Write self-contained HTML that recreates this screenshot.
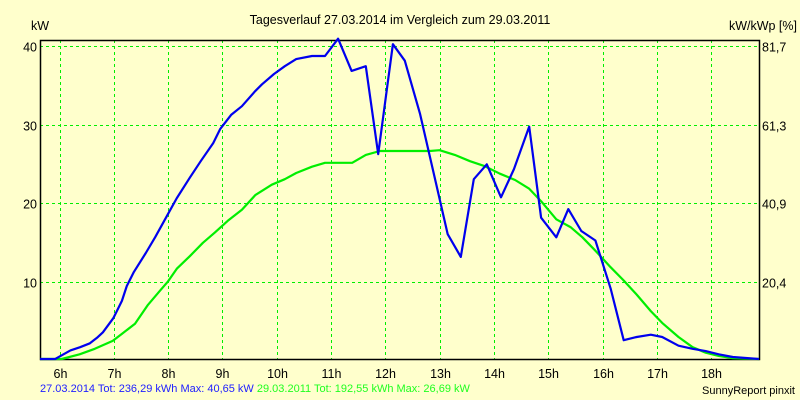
<!DOCTYPE html>
<html><head><meta charset="utf-8"><style>
html,body{margin:0;padding:0;background:#ffffcc;}
svg{display:block;font-family:"Liberation Sans",sans-serif;}
</style></head><body>
<svg id="chart" width="800" height="400">
<rect x="0" y="0" width="800" height="400" fill="#ffffcc"/>
<g id="grid"></g>
<g id="axes"></g>
<g id="series"></g>
<text x="400" y="24" font-size="12.5" text-anchor="middle" fill="#000">Tagesverlauf 27.03.2014 im Vergleich zum 29.03.2011</text>
<text x="31" y="30" font-size="12.5" fill="#000">kW</text>
<text x="797" y="30" font-size="12.5" text-anchor="end" fill="#000">kW/kWp [%]</text>
<text x="40" y="392" font-size="11"><tspan fill="#2020ff">27.03.2014 Tot: 236,29 kWh Max: 40,65 kW</tspan> <tspan fill="#20ff20">29.03.2011 Tot: 192,55 kWh Max: 26,69 kW</tspan></text>
<text x="795" y="394" font-size="11" text-anchor="end" fill="#000">SunnyReport pinxit</text>
</svg>
<script>
const xTicks = [6,7,8,9,10,11,12,13,14,15,16,17,18];
const yTicks = [10,20,30,40];
const y2Labels = ["20,4","40,9","61,3","81,7"];
const hours2014 = [5.64,5.92,6.0,6.2,6.38,6.56,6.69,6.8,6.99,7.15,7.24,7.37,7.59,7.76,8.0,8.16,8.4,8.6,8.83,8.96,9.16,9.36,9.6,9.73,9.95,10.15,10.36,10.65,10.89,11.13,11.38,11.64,11.87,12.14,12.36,12.64,12.93,13.15,13.39,13.63,13.87,14.13,14.37,14.65,14.87,15.15,15.37,15.61,15.87,16.15,16.39,16.63,16.89,17.1,17.4,17.66,17.9,18.14,18.4,18.88];
const kw2014 = [0,0,0.3,1.1,1.5,2.0,2.7,3.4,5.2,7.4,9.3,11.1,13.5,15.5,18.5,20.5,23.1,25.2,27.5,29.3,31.1,32.2,34.1,35.0,36.3,37.3,38.2,38.6,38.6,40.8,36.7,37.3,26.1,40.1,38.0,31.2,22.5,15.9,13.0,22.9,24.8,20.6,24.2,29.6,18.0,15.5,19.1,16.3,15.1,9.0,2.4,2.8,3.1,2.8,1.7,1.3,1.0,0.6,0.25,0];
const hours2011 = [5.64,6.04,6.37,6.65,6.98,7.15,7.39,7.63,7.85,8.0,8.16,8.4,8.64,8.86,9.1,9.36,9.61,9.91,10.15,10.36,10.65,10.89,11.39,11.64,11.9,12.14,12.45,12.82,13.0,13.28,13.56,13.82,14.11,14.39,14.65,14.87,15.15,15.41,15.63,15.87,16.15,16.39,16.63,16.89,17.1,17.4,17.66,17.9,18.14,18.4,18.88];
const kw2011 = [0,0,0.6,1.3,2.3,3.2,4.5,6.9,8.7,9.9,11.5,13.1,14.8,16.1,17.6,19.0,20.9,22.2,22.9,23.7,24.5,25.0,25.0,26.0,26.5,26.5,26.5,26.5,26.6,26.0,25.2,24.6,23.6,22.8,21.7,20.1,17.8,16.8,15.5,13.8,11.7,10.0,8.2,6.1,4.6,2.8,1.5,0.8,0.4,0.1,0];

const NS="http://www.w3.org/2000/svg";
const L=40,R=759,T=40,B=360;
function xs(h){return 59.5+(h-6)*54.3;}
function ys(v){return B-v*7.85;}
function mk(tag,attrs,parent){const e=document.createElementNS(NS,tag);for(const k in attrs)e.setAttribute(k,attrs[k]);parent.appendChild(e);return e;}
const grid=document.getElementById('grid'),axes=document.getElementById('axes'),series=document.getElementById('series');
xTicks.forEach(h=>{
  const x=Math.round(xs(h))+0.5;
  const l=mk('line',{x1:x,y1:T,x2:x,y2:B,stroke:'#00ee00','stroke-width':1,'stroke-dasharray':'3,3'},grid);
  
  
  const t=mk('text',{x:x,y:378,'font-size':12.5,'text-anchor':'middle',fill:'#000'},axes);
  t.textContent=h+'h';
  
  
});
yTicks.forEach((v,i)=>{
  const y=Math.round(ys(v))+0.5;
  const l=mk('line',{x1:L,y1:y,x2:R,y2:y,stroke:'#00ee00','stroke-width':1,'stroke-dasharray':'3,3'},grid);
  
  
  const t=mk('text',{x:37,y:y+5,'font-size':12.5,'text-anchor':'end',fill:'#000'},axes);
  t.textContent=v;
  
  
  const t2=mk('text',{x:762,y:y+5,'font-size':12.5,fill:'#000'},axes);
  t2.textContent=y2Labels[i];
  
  
});
const frame=mk('path',{d:`M${L+0.5},${T+0.5} H${R+0.5} V${B-0.5} H${L+0.5} Z`,fill:'none',stroke:'#000','stroke-width':1.5},axes);


function line(hs,vs,color,name){
  const d=hs.map((h,i)=>(i?'L':'M')+xs(h).toFixed(1)+','+(ys(vs[i])-1).toFixed(1)).join(' ');
  const p=mk('path',{d:d,fill:'none',stroke:color,'stroke-width':2.2,'stroke-linejoin':'round'},series);
  
  
}
line(hours2011,kw2011,'#00ee00','series-2011-line');
line(hours2014,kw2014,'#0000ee','series-2014-line');
</script>
</body></html>
